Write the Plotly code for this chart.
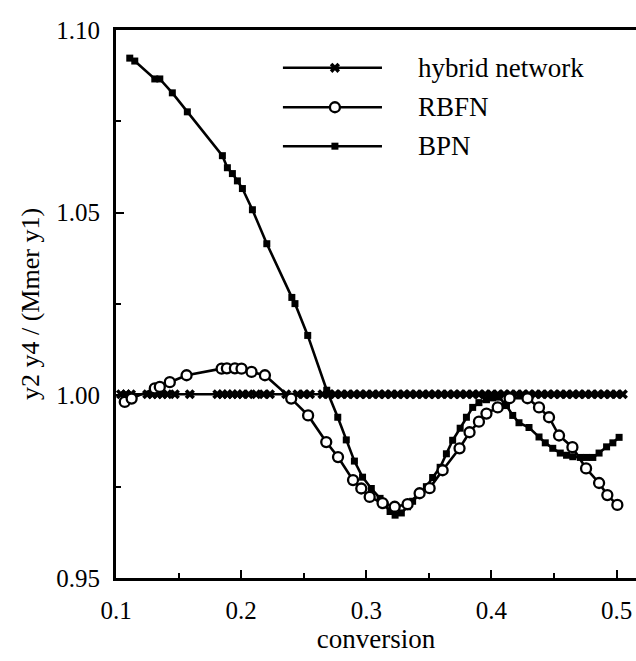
import plotly.graph_objects as go

# Ratio y2*y4 / (Mmer*y1) against conversion for three network models

hybrid_x = [0.104, 0.108, 0.112, 0.125, 0.129, 0.133, 0.137, 0.141, 0.147, 0.159,
            0.181, 0.185, 0.189, 0.193, 0.197, 0.201, 0.206, 0.212, 0.218, 0.223,
            0.236, 0.245, 0.250, 0.255, 0.265, 0.270, 0.275, 0.280, 0.285, 0.290,
            0.295, 0.300, 0.305, 0.310, 0.315, 0.320, 0.325, 0.330, 0.335, 0.340,
            0.345, 0.350, 0.355, 0.360, 0.365, 0.370, 0.375, 0.380, 0.385, 0.390,
            0.395, 0.400, 0.405, 0.410, 0.415, 0.420, 0.425, 0.430, 0.435, 0.440,
            0.445, 0.450, 0.455, 0.460, 0.465, 0.470, 0.475, 0.480, 0.485, 0.490,
            0.495, 0.500, 0.505]
hybrid_y = [1.0003, 1.0003, 1.0003, 1.0003, 1.0003, 1.0003, 1.0003, 1.0003, 1.0003, 1.0003,
            1.0003, 1.0003, 1.0003, 1.0003, 1.0003, 1.0003, 1.0003, 1.0003, 1.0003, 1.0003,
            1.0003, 1.0003, 1.0003, 1.0003, 1.0003, 1.0003, 1.0003, 1.0003, 1.0003, 1.0003,
            1.0003, 1.0003, 1.0003, 1.0003, 1.0003, 1.0003, 1.0003, 1.0003, 1.0003, 1.0003,
            1.0003, 1.0003, 1.0003, 1.0003, 1.0003, 1.0003, 1.0003, 1.0003, 1.0003, 1.0003,
            1.0003, 1.0003, 1.0003, 1.0003, 1.0003, 1.0003, 1.0003, 1.0003, 1.0003, 1.0003,
            1.0003, 1.0003, 1.0003, 1.0003, 1.0003, 1.0003, 1.0003, 1.0003, 1.0003, 1.0003,
            1.0003, 1.0003, 1.0003]

rbfn_x = [0.107, 0.1125, 0.131, 0.135, 0.143, 0.1564, 0.1844, 0.1886, 0.195, 0.2003,
          0.2083, 0.219, 0.240, 0.2535, 0.268, 0.2774, 0.2894, 0.296, 0.3027, 0.313,
          0.3227, 0.333, 0.3426, 0.3506, 0.361, 0.3745, 0.3825, 0.390, 0.396, 0.405,
          0.4145, 0.4288, 0.438, 0.446, 0.454, 0.4647, 0.4756, 0.486, 0.4926, 0.5006]
rbfn_y = [0.9982, 0.9991, 1.0019, 1.0023, 1.0036, 1.0055, 1.0073, 1.0074, 1.0074, 1.0073,
          1.0064, 1.0055, 0.9991, 0.9945, 0.9872, 0.9831, 0.9768, 0.9745, 0.9722, 0.9705,
          0.9695, 0.9702, 0.9732, 0.9746, 0.9795, 0.9855, 0.9899, 0.9928, 0.9950, 0.9967,
          0.9992, 0.9992, 0.9967, 0.9940, 0.9890, 0.9858, 0.9800, 0.9760, 0.9727, 0.9700]

bpn_x = [0.111, 0.115, 0.131, 0.135, 0.145, 0.157, 0.185, 0.189, 0.193, 0.197,
         0.201, 0.209, 0.2205, 0.2405, 0.243, 0.2532, 0.2684, 0.2772, 0.284, 0.2905,
         0.297, 0.304, 0.311, 0.315, 0.319, 0.323, 0.328, 0.333, 0.337, 0.342,
         0.348, 0.353, 0.359, 0.364, 0.369, 0.375, 0.380, 0.385, 0.390, 0.396,
         0.401, 0.406, 0.412, 0.417, 0.422, 0.430, 0.438, 0.443, 0.449, 0.455,
         0.460, 0.465, 0.471, 0.476, 0.481, 0.486, 0.492, 0.497, 0.502]
bpn_y = [1.0923, 1.0915, 1.0866, 1.0866, 1.0828, 1.0776, 1.0656, 1.0623, 1.0607, 1.0587,
         1.0566, 1.0508, 1.0415, 1.0268, 1.0251, 1.0164, 1.0014, 0.9940, 0.9878, 0.9820,
         0.9776, 0.9745, 0.9718, 0.9700, 0.9682, 0.9672, 0.9678, 0.9695, 0.9710, 0.9728,
         0.9750, 0.9775, 0.9803, 0.9840, 0.9877, 0.9910, 0.9940, 0.9967, 0.9980, 0.9988,
         0.9993, 0.9995, 0.9972, 0.9945, 0.9925, 0.9912, 0.9886, 0.9870, 0.9855, 0.9842,
         0.9836, 0.9832, 0.9830, 0.9830, 0.9830, 0.9842, 0.9859, 0.9870, 0.9885]

series_names = ["hybrid network", "RBFN", "BPN"]
x_ticks = [0.1, 0.2, 0.3, 0.4, 0.5]
y_ticks = [0.95, 1.00, 1.05, 1.10]

FONT = "Liberation Serif"
LW = 2.6

fig = go.Figure()

hyb_marker = dict(symbol="x", size=9, color="black", line=dict(width=0))
rbf_marker = dict(symbol="circle", size=10, color="white", line=dict(width=2.3, color="black"))
bpn_marker = dict(symbol="square", size=7, color="black", line=dict(width=0))

fig.add_trace(go.Scatter(x=hybrid_x, y=hybrid_y, mode="lines+markers",
                         line=dict(color="black", width=LW), marker=hyb_marker,
                         showlegend=False))
fig.add_trace(go.Scatter(x=bpn_x, y=bpn_y, mode="lines+markers",
                         line=dict(color="black", width=LW), marker=bpn_marker,
                         showlegend=False))
fig.add_trace(go.Scatter(x=rbfn_x, y=rbfn_y, mode="lines+markers",
                         line=dict(color="black", width=LW), marker=rbf_marker,
                         showlegend=False))

# Legend key drawn on an overlay axis spanning the plot area
key_rows = [0.931, 0.859, 0.788]
key_x0, key_xm, key_x1 = 0.321, 0.421, 0.5115
for name, row, mk in zip(series_names, key_rows, [hyb_marker, rbf_marker, bpn_marker]):
    fig.add_trace(go.Scatter(x=[key_x0, key_x1], y=[row, row], mode="lines",
                             line=dict(color="black", width=LW),
                             xaxis="x2", yaxis="y2", showlegend=False, hoverinfo="skip"))
    fig.add_trace(go.Scatter(x=[key_xm], y=[row], mode="markers", marker=mk,
                             xaxis="x2", yaxis="y2", showlegend=False, hoverinfo="skip"))
    fig.add_annotation(x=0.577, y=row, xref="x2", yref="y2", text=name,
                       showarrow=False, xanchor="left", yanchor="middle",
                       font=dict(family=FONT, size=27, color="black"))

fig.update_layout(
    width=636, height=661,
    margin=dict(l=116, r=0, t=30, b=83),
    paper_bgcolor="white", plot_bgcolor="white",
    font=dict(family=FONT, color="black"),
    xaxis=dict(
        range=[0.1, 0.5155], tickvals=x_ticks, tickformat=".1f",
        showgrid=False, zeroline=False,
        showline=True, linecolor="black", linewidth=3, mirror=True,
        ticks="inside", ticklen=8, tickwidth=2, tickcolor="black",
        minor=dict(ticks="inside", dtick=0.05, ticklen=5, tickwidth=2, tickcolor="black"),
        tickfont=dict(family=FONT, size=25, color="black"),
        ticklabelstandoff=8,
        title=dict(text="conversion", font=dict(family=FONT, size=27, color="black"),
                   standoff=5),
    ),
    yaxis=dict(
        range=[0.95, 1.10], tickvals=y_ticks, tickformat=".2f",
        showgrid=False, zeroline=False,
        showline=True, linecolor="black", linewidth=3, mirror=False,
        ticks="inside", ticklen=8, tickwidth=2, tickcolor="black",
        minor=dict(ticks="inside", dtick=0.025, ticklen=5, tickwidth=2, tickcolor="black"),
        tickfont=dict(family=FONT, size=25, color="black"),
        ticklabelstandoff=8,
        title=dict(text="y2 y4 / (Mmer y1)", font=dict(family=FONT, size=26, color="black"),
                   standoff=10),
    ),
    xaxis2=dict(overlaying="x", range=[0, 1], visible=False, fixedrange=True),
    yaxis2=dict(overlaying="y", range=[0, 1], visible=False, fixedrange=True),
)

fig.write_html("out.html")
